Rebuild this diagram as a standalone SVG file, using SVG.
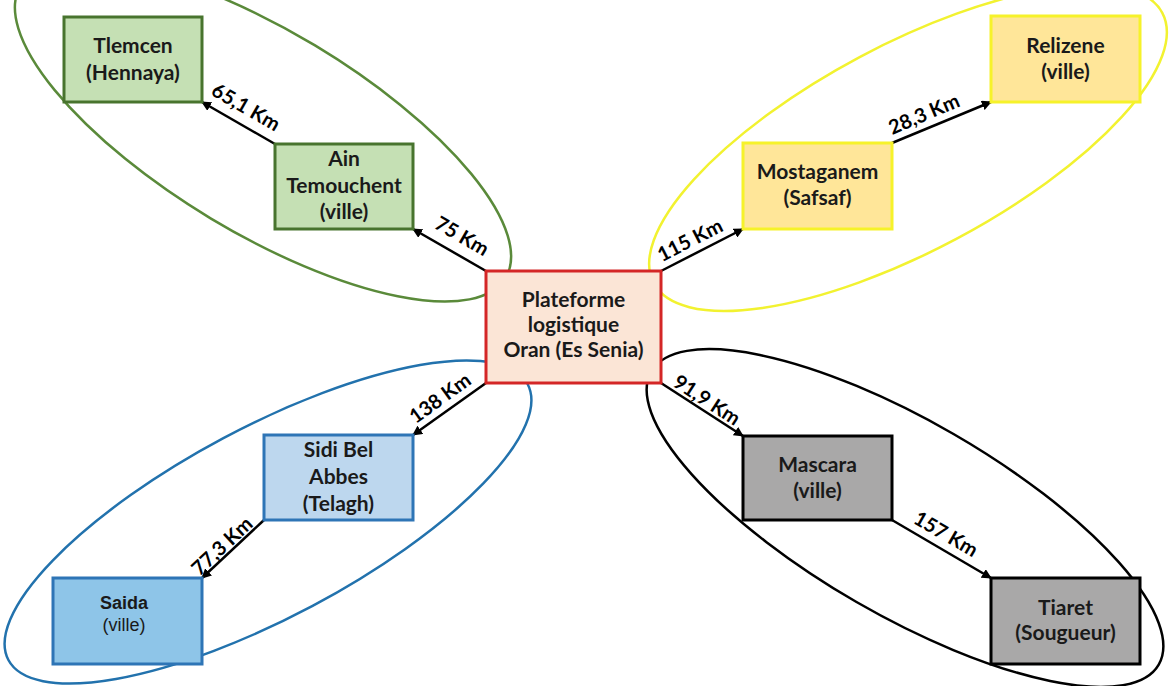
<svg xmlns="http://www.w3.org/2000/svg" width="1170" height="686" viewBox="0 0 1170 686">
<defs>
<marker id="ah" viewBox="0 0 10 10" refX="9" refY="5" markerWidth="4" markerHeight="4" orient="auto" markerUnits="strokeWidth">
<path d="M0,0 L10,5 L0,10 z" fill="#000"/>
</marker>
</defs>
<style>
.t{font-family:Lato,"Liberation Sans",sans-serif;font-weight:bold;font-size:21px;fill:#1a1a1a;text-anchor:middle}
.l{font-family:Lato,"Liberation Sans",sans-serif;font-weight:bold;font-size:20px;fill:#000;text-anchor:middle}
.a{font-family:"Liberation Sans",Arial,sans-serif;font-size:18px;fill:#1a1a1a;text-anchor:middle}
.e{fill:none;stroke-width:2.5}
.c{stroke:#000;stroke-width:2.5;fill:none;marker-end:url(#ah)}
.g{fill:#c5e0b4;stroke:#48742e;stroke-width:3}
.y{fill:#ffe699;stroke:#f6f22a;stroke-width:3}
.b{fill:#bdd7ee;stroke:#2e75b6;stroke-width:3}
.k{fill:#a9a8a8;stroke:#000;stroke-width:3}
</style>
<rect width="1170" height="686" fill="#fff"/>
<g id="groups">
<ellipse class="e" stroke="#5a8a3a" cx="263" cy="132" rx="283" ry="101" transform="rotate(31 263 132)"/>
<ellipse class="e" stroke="#f2f230" cx="908" cy="148" rx="288" ry="103" transform="rotate(-28 908 148)"/>
<ellipse class="e" stroke="#2272ad" cx="268" cy="522" rx="294" ry="95" transform="rotate(-28 268 522)"/>
<ellipse class="e" stroke="#000" cx="905" cy="518" rx="293" ry="97" transform="rotate(30 905 518)"/>
</g>
<g id="connectors">
<line class="c" x1="486" y1="271" x2="413" y2="229"/>
<line class="c" x1="275" y1="144" x2="202" y2="102"/>
<line class="c" x1="661" y1="271" x2="743" y2="229"/>
<line class="c" x1="892" y1="143" x2="991" y2="102"/>
<line class="c" x1="486" y1="383" x2="413" y2="435"/>
<line class="c" x1="264" y1="520" x2="202" y2="578"/>
<line class="c" x1="661" y1="383" x2="743" y2="436"/>
<line class="c" x1="892" y1="520" x2="991" y2="578"/>
<text class="l" x="462" y="236" dy="0.35em" transform="rotate(30 462 236)">75 Km</text>
<text class="l" x="246" y="107" dy="0.35em" transform="rotate(30 246 107)">65,1 Km</text>
<text class="l" x="690" y="240" dy="0.35em" transform="rotate(-27 690 240)">115 Km</text>
<text class="l" x="924" y="114" dy="0.35em" transform="rotate(-23 924 114)">28,3 Km</text>
<text class="l" x="440" y="398" dy="0.35em" transform="rotate(-36 440 398)">138 Km</text>
<text class="l" x="222" y="546" dy="0.35em" transform="rotate(-43 222 546)">77,3 Km</text>
<text class="l" x="707" y="400" dy="0.35em" transform="rotate(33 707 400)">91,9 Km</text>
<text class="l" x="946" y="534" dy="0.35em" transform="rotate(30 946 534)">157 Km</text>
</g>
<g id="n-center">
<rect x="486" y="271" width="175" height="112" fill="#fbe5d6" stroke="#d42626" stroke-width="3"/>
<text class="t" x="573.5" y="307">Plateforme</text>
<text class="t" x="573.5" y="332">logistique</text>
<text class="t" x="573.5" y="357">Oran (Es Senia)</text>
</g>
<g id="n-tlemcen">
<rect class="g" x="64" y="17" width="138" height="85"/>
<text class="t" x="133" y="53">Tlemcen</text>
<text class="t" x="133" y="80">(Hennaya)</text>
</g>
<g id="n-ain">
<rect class="g" x="275" y="144" width="138" height="85"/>
<text class="t" x="344" y="166">Ain</text>
<text class="t" x="344" y="193">Temouchent</text>
<text class="t" x="344" y="219">(ville)</text>
</g>
<g id="n-mostaganem">
<rect class="y" x="743" y="143" width="149" height="86"/>
<text class="t" x="817.5" y="179">Mostaganem</text>
<text class="t" x="817.5" y="205">(Safsaf)</text>
</g>
<g id="n-relizene">
<rect class="y" x="991" y="16" width="149" height="86"/>
<text class="t" x="1065.5" y="53">Relizene</text>
<text class="t" x="1065.5" y="79">(ville)</text>
</g>
<g id="n-sidi">
<rect class="b" x="264" y="435" width="149" height="85"/>
<text class="t" x="338.5" y="457">Sidi Bel</text>
<text class="t" x="338.5" y="484">Abbes</text>
<text class="t" x="338.5" y="511">(Telagh)</text>
</g>
<g id="n-saida">
<rect x="53" y="578" width="149" height="86" fill="#8ec5e8" stroke="#2e75b6" stroke-width="3"/>
<text class="a" x="124" y="609" font-weight="bold">Saida</text>
<text class="a" x="124" y="631">(ville)</text>
</g>
<g id="n-mascara">
<rect class="k" x="743" y="436" width="149" height="84"/>
<text class="t" x="817.5" y="472">Mascara</text>
<text class="t" x="817.5" y="498">(ville)</text>
</g>
<g id="n-tiaret">
<rect class="k" x="991" y="578" width="149" height="86"/>
<text class="t" x="1065.5" y="615">Tiaret</text>
<text class="t" x="1065.5" y="640">(Sougueur)</text>
</g>
</svg>
